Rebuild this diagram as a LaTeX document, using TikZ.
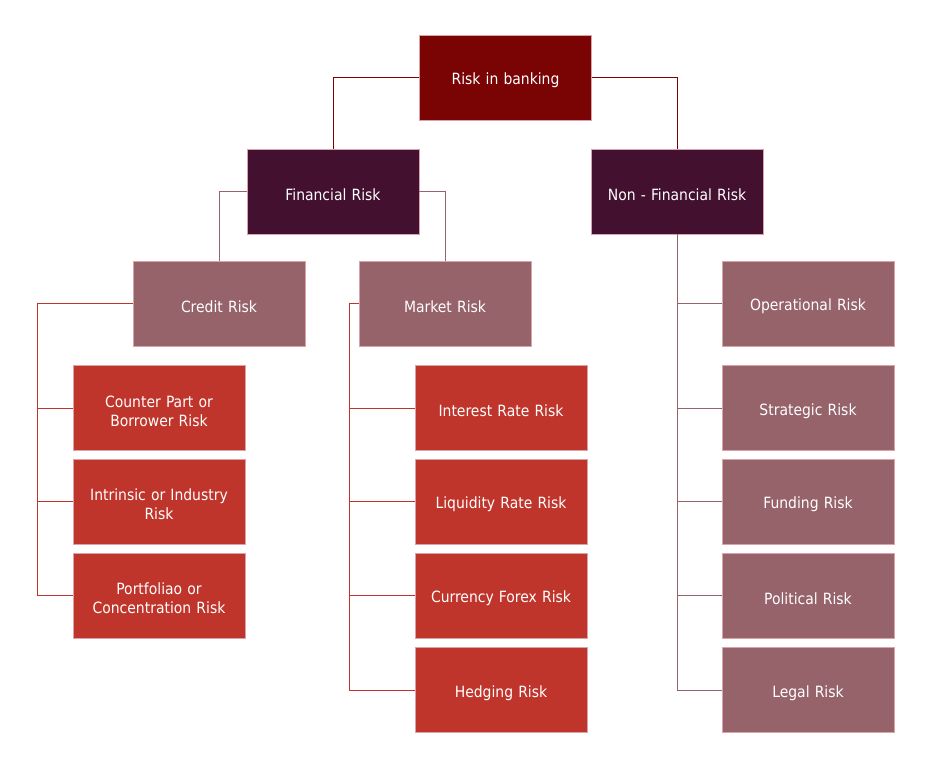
\documentclass[tikz,border=0pt]{standalone}
\usepackage{fontspec}
\setmainfont{DejaVu Sans Condensed}
\definecolor{rootc}{HTML}{7A0303}
\definecolor{finc}{HTML}{431030}
\definecolor{mauve}{HTML}{96636B}
\definecolor{redc}{HTML}{C0352B}
\definecolor{edgec}{HTML}{D9A3A8}
\begin{document}
\begin{tikzpicture}[x=1pt,y=-1pt,
  box/.style={draw=edgec, line width=0.6pt, minimum width=172pt, minimum height=85pt,
    text width=164pt, align=center, text=white, inner sep=0pt,
    font=\fontsize{15.5}{19}\selectfont,
    execute at begin node={\rule{0pt}{17.5pt}}},
  rootbox/.style={box, fill=rootc},
  finbox/.style={box, fill=finc},
  mbox/.style={box, fill=mauve},
  rbox/.style={box, fill=redc},
  rootline/.style={draw=rootc, line width=0.9pt},
  mline/.style={draw=mauve, line width=0.9pt},
  rline/.style={draw=redc, line width=0.9pt}]
\useasboundingbox (0,0) rectangle (929,758);
\node[rootbox] (root) at (505.5,77.5) {Risk in banking};
\node[finbox] (fin) at (333,191.5) {Financial Risk};
\node[finbox] (nfin) at (677,191.5) {Non - Financial Risk};
\node[mbox] (credit) at (219,303.5) {Credit Risk};
\node[mbox] (market) at (445,303.5) {Market Risk};
\node[mbox] (oper) at (808,303.5) {Operational Risk};
\node[rbox] (cp) at (159,408) {Counter Part or\\Borrower Risk};
\node[rbox] (intr) at (159,501.5) {Intrinsic or Industry\\Risk};
\node[rbox] (port) at (159,595.5) {Portfoliao or\\Concentration Risk};
\node[rbox] (ir) at (501,408) {Interest Rate Risk};
\node[rbox] (liq) at (501,501.5) {Liquidity Rate Risk};
\node[rbox] (cur) at (501,595.5) {Currency Forex Risk};
\node[rbox] (hed) at (501,690) {Hedging Risk};
\node[mbox] (strat) at (808,408) {Strategic Risk};
\node[mbox] (fund) at (808,501.5) {Funding Risk};
\node[mbox] (pol) at (808,595.5) {Political Risk};
\node[mbox] (legal) at (808,690) {Legal Risk};
% top level
\draw[rootline] (root.west) -| (fin.north);
\draw[rootline] (root.east) -| (nfin.north);
% financial
\draw[mline] (fin.west) -| (credit.north);
\draw[mline] (fin.east) -| (market.north);
% credit
\coordinate (cx) at (37,0);
\draw[rline] (credit.west) -- (credit.west -| cx) |- (port.west);
\draw[rline] (cx |- cp.west) -- (cp.west);
\draw[rline] (cx |- intr.west) -- (intr.west);
% market
\coordinate (mx) at (349,0);
\draw[rline] (market.west) -- (market.west -| mx) |- (hed.west);
\draw[rline] (mx |- ir.west) -- (ir.west);
\draw[rline] (mx |- liq.west) -- (liq.west);
\draw[rline] (mx |- cur.west) -- (cur.west);
% non-financial
\draw[mline] (nfin.south) |- (legal.west);
\draw[mline] (nfin.south |- oper.west) -- (oper.west);
\draw[mline] (nfin.south |- strat.west) -- (strat.west);
\draw[mline] (nfin.south |- fund.west) -- (fund.west);
\draw[mline] (nfin.south |- pol.west) -- (pol.west);
\end{tikzpicture}
\end{document}
